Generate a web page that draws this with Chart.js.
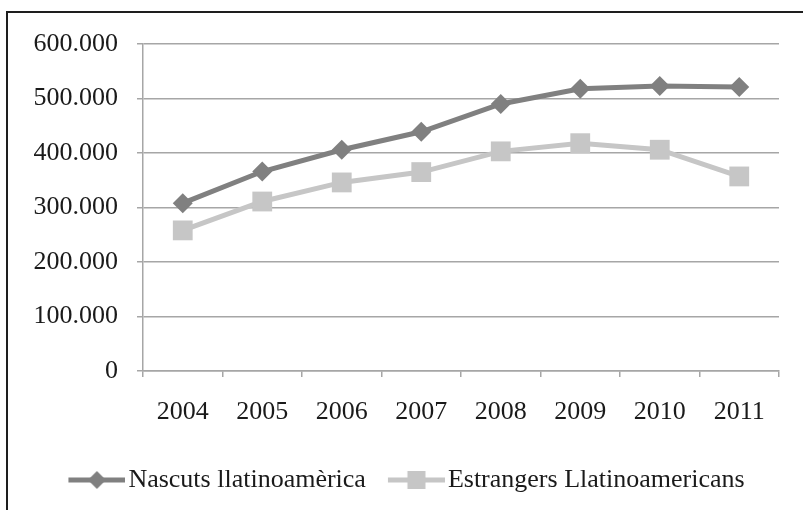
<!DOCTYPE html>
<html><head><meta charset="utf-8">
<script src="https://cdn.jsdelivr.net/npm/chart.js@4"></script>
<style>
html,body{margin:0;padding:0;background:#fff;overflow:hidden;width:803px;height:510px;}
#frame{position:absolute;left:6px;top:11px;width:900px;height:600px;border:2px solid #1e1e1e;box-sizing:border-box;}
#wrap{position:absolute;left:0;top:0;width:803px;height:510px;}
</style></head><body>
<div id="frame"></div>
<div id="wrap"><canvas id="c" width="803" height="510"></canvas></div>
<script>
const years = ['2004','2005','2006','2007','2008','2009','2010','2011'];
const nascuts = [308000, 366000, 406000, 439000, 490000, 518000, 523000, 521000];
const estrangers = [258000, 311000, 346000, 365000, 403000, 418000, 406000, 357000];
const seriesNames = ['Nascuts llatinoamèrica', 'Estrangers Llatinoamericans'];
const yMin = 0, yMax = 600000, yStep = 100000;

const DARK = '#808080', LIGHT = '#c6c6c6', GRID = '#a6a6a6', TEXT = '#1a1a1a';
const FONT = {family: "'Liberation Serif', 'Times New Roman', serif", size: 26};

// legend key: a line segment with the marker in its middle (visible part on the right of the image)
function makeIcon(color, kind) {
  const w = 69, vis = 57, h = 24;
  const cv = document.createElement('canvas');
  cv.width = w; cv.height = h;
  const g = cv.getContext('2d');
  g.strokeStyle = color; g.lineWidth = 5;
  g.beginPath(); g.moveTo(w - vis, h/2); g.lineTo(w, h/2); g.stroke();
  g.fillStyle = color;
  const cx = w - vis/2, cy = h/2;
  if (kind === 'diamond') {
    const r = 9;
    g.beginPath(); g.moveTo(cx, cy - r); g.lineTo(cx + r, cy); g.lineTo(cx, cy + r); g.lineTo(cx - r, cy); g.closePath(); g.fill();
  } else {
    const s = 9;
    g.fillRect(cx - s, cy - s, 2*s, 2*s);
  }
  return cv;
}
const iconDark = makeIcon(DARK, 'diamond');
const iconLight = makeIcon(LIGHT, 'square');

Chart.defaults.font.family = FONT.family;
Chart.defaults.color = TEXT;

new Chart(document.getElementById('c'), {
  type: 'line',
  data: {
    labels: years,
    datasets: [
      {label: seriesNames[0], data: nascuts, borderColor: DARK, backgroundColor: DARK, borderWidth: 5,
       pointStyle: 'rectRot', pointRadius: 10, pointHoverRadius: 10, pointBackgroundColor: DARK, pointBorderWidth: 0, tension: 0},
      {label: seriesNames[1], data: estrangers, borderColor: LIGHT, backgroundColor: LIGHT, borderWidth: 5,
       pointStyle: 'rect', pointRadius: 14, pointHoverRadius: 14, pointBackgroundColor: LIGHT, pointBorderWidth: 0, tension: 0}
    ]
  },
  options: {
    responsive: false,
    animation: false,
    devicePixelRatio: 1,
    layout: {padding: {left: 32, right: 24, top: 44, bottom: 7}},
    plugins: {
      tooltip: {enabled: false},
      legend: {
        position: 'bottom',
        labels: {
          font: FONT, color: TEXT, usePointStyle: true, pointStyleWidth: 49, padding: 20,
          generateLabels: (chart) => chart.data.datasets.map((ds, i) => ({
            text: ds.label, pointStyle: i === 0 ? iconDark : iconLight, datasetIndex: i,
            fillStyle: ds.borderColor, strokeStyle: ds.borderColor, lineWidth: 0, hidden: false, fontColor: TEXT
          }))
        }
      }
    },
    scales: {
      x: {
        offset: true,
        afterFit: (s) => { s.height = 76; },
        grid: {display: true, drawOnChartArea: false, offset: true, tickLength: 6, color: GRID, lineWidth: 1.5},
        border: {display: true, color: GRID, width: 1.5},
        ticks: {font: FONT, color: TEXT, padding: 20, maxRotation: 0}
      },
      y: {
        min: yMin, max: yMax,
        grid: {color: GRID, lineWidth: 1.5, tickLength: 6},
        border: {display: true, color: GRID, width: 1.5},
        afterFit: (s) => { s.width = 111; },
        ticks: {font: FONT, color: TEXT, padding: 19, stepSize: yStep,
          callback: (v) => String(v).replace(/\B(?=(\d{3})+(?!\d))/g, '.')}
      }
    }
  }
});
</script>
</body></html>
